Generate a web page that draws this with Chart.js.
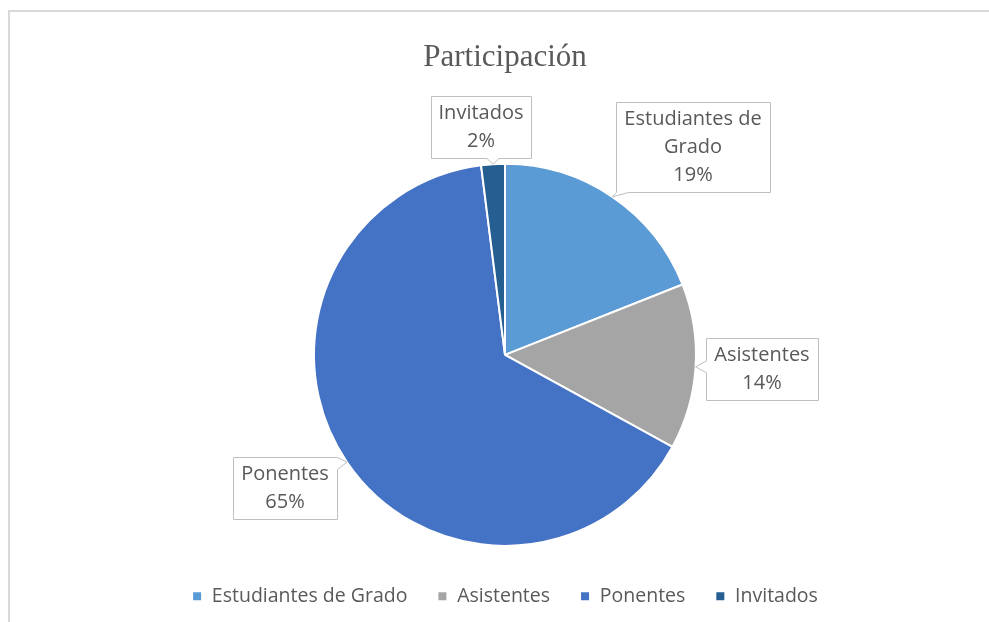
<!DOCTYPE html>
<html>
<head>
<meta charset="utf-8">
<script src="https://cdn.jsdelivr.net/npm/chart.js@4"></script>
<style>
  html, body { margin: 0; padding: 0; background: #fff; overflow: hidden; }
  #wrap { width: 989px; height: 622px; }
</style>
</head>
<body>
<div id="wrap"><canvas id="chart-participacion"></canvas></div>
<script>
const categorias = ["Estudiantes de Grado", "Asistentes", "Ponentes", "Invitados"];
const valores = [19, 14, 65, 2];
const colores = ['#5B9BD5', '#A5A5A5', '#4472C4', '#255E91'];

// where each callout box sits, relative to the pie centre (px), and which side gets the pointer
const calloutOffset = [[188, -208], [257, 14], [-220, 133], [-24, -228]];
const calloutSide = ['bottom', 'left', 'right', 'bottom'];

const textColor = '#595959';
const labelFont = '20px "Open Sans"';

const marco = {
  id: 'marco',
  beforeDraw(chart) {
    const ctx = chart.ctx;
    ctx.save();
    ctx.fillStyle = '#fff';
    ctx.fillRect(0, 0, chart.width, chart.height);
    ctx.strokeStyle = '#D9D9D9';
    ctx.lineWidth = 2;
    ctx.beginPath();
    ctx.moveTo(9, chart.height);
    ctx.lineTo(9, 11);
    ctx.lineTo(chart.width, 11);
    ctx.stroke();
    ctx.restore();
  }
};

function wrapText(ctx, text, maxW) {
  const words = text.split(' ');
  const lines = [];
  let cur = '';
  words.forEach(w => {
    const test = cur ? cur + ' ' + w : w;
    if (ctx.measureText(test).width > maxW && cur) {
      lines.push(cur);
      cur = w;
    } else {
      cur = test;
    }
  });
  lines.push(cur);
  return lines;
}

const callouts = {
  id: 'callouts',
  afterDraw(chart) {
    const ctx = chart.ctx;
    const arcs = chart.getDatasetMeta(0).data;
    const total = valores.reduce((a, b) => a + b, 0);
    ctx.save();
    ctx.font = labelFont;
    arcs.forEach((arc, i) => {
      const mid = (arc.startAngle + arc.endAngle) / 2;
      const tx = arc.x + Math.cos(mid) * arc.outerRadius;
      const ty = arc.y + Math.sin(mid) * arc.outerRadius;

      const lines = wrapText(ctx, categorias[i], 150);
      lines.push(Math.round(valores[i] / total * 100) + '%');
      const lh = 28;
      const w = Math.max(...lines.map(l => ctx.measureText(l).width)) + 16;
      const h = lines.length * lh + 6;
      const cx = arc.x + calloutOffset[i][0];
      const cy = arc.y + calloutOffset[i][1];
      const x0 = Math.round(cx - w / 2) + 0.5, x1 = Math.round(cx + w / 2) + 0.5;
      const y0 = Math.round(cy - h / 2) + 0.5, y1 = Math.round(cy + h / 2) + 0.5;

      const side = calloutSide[i];
      const half = 6;
      let b;
      ctx.beginPath();
      ctx.moveTo(x0, y0);
      if (side === 'top') {
        b = Math.min(Math.max(tx, x0 + half), x1 - half);
        ctx.lineTo(b - half, y0); ctx.lineTo(tx, ty); ctx.lineTo(b + half, y0);
      }
      ctx.lineTo(x1, y0);
      if (side === 'right') {
        b = Math.min(Math.max(ty, y0 + half), y1 - half);
        ctx.lineTo(x1, b - half); ctx.lineTo(tx, ty); ctx.lineTo(x1, b + half);
      }
      ctx.lineTo(x1, y1);
      if (side === 'bottom') {
        b = Math.min(Math.max(tx, x0 + half), x1 - half);
        ctx.lineTo(b + half, y1); ctx.lineTo(tx, ty); ctx.lineTo(b - half, y1);
      }
      ctx.lineTo(x0, y1);
      if (side === 'left') {
        b = Math.min(Math.max(ty, y0 + half), y1 - half);
        ctx.lineTo(x0, b + half); ctx.lineTo(tx, ty); ctx.lineTo(x0, b - half);
      }
      ctx.closePath();
      ctx.fillStyle = '#fff';
      ctx.fill();
      ctx.strokeStyle = '#BFBFBF';
      ctx.lineWidth = 1;
      ctx.stroke();

      ctx.fillStyle = textColor;
      ctx.textAlign = 'center';
      ctx.textBaseline = 'middle';
      lines.forEach((l, k) => {
        ctx.fillText(l, cx, y0 + 3 + lh * k + lh / 2);
      });
    });
    ctx.restore();
  }
};

const el = document.getElementById('chart-participacion');

new Chart(el, {
  type: 'pie',
  data: {
    labels: categorias,
    datasets: [
      {
        data: valores,
        backgroundColor: colores,
        borderColor: '#fff',
        borderWidth: 2,
        radius: 191,
      },
    ],
  },
  options: {
    responsive: true,
    maintainAspectRatio: false,
    animation: false,
    layout: {
      padding: { left: 21, right: 0, top: 0, bottom: 6 },
    },
    plugins: {
      title: {
        display: true,
        text: 'Participación',
        color: textColor,
        font: { family: '"Liberation Serif", serif', size: 31, weight: 'normal' },
        padding: { top: 39, bottom: 77 },
      },
      legend: {
        position: 'bottom',
        labels: {
          color: textColor,
          font: { family: '"Open Sans", sans-serif', size: 19.5 },
          boxWidth: 10,
          boxHeight: 10,
          padding: 30,
        },
      },
      tooltip: { enabled: false },
    },
  },
  plugins: [marco, callouts],
});
</script>
</body>
</html>
